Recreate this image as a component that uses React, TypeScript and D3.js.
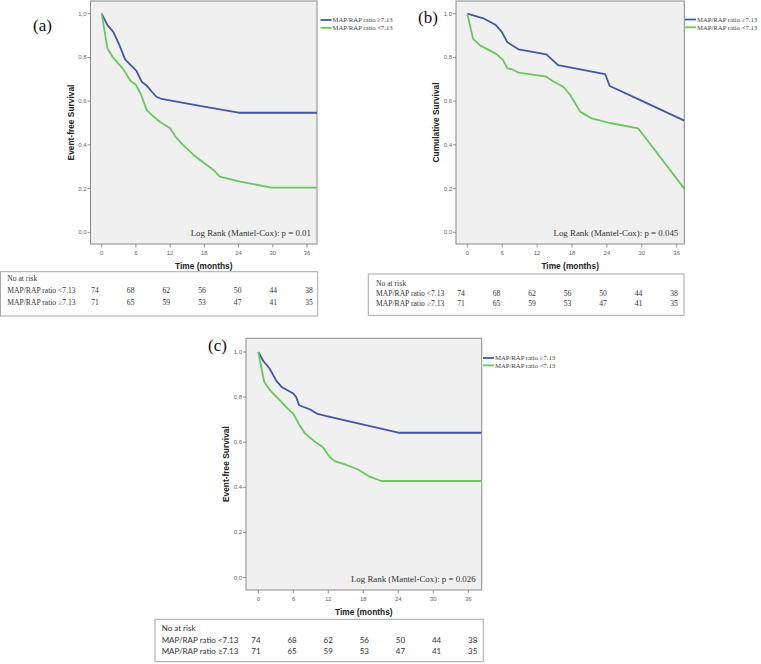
import React from "react";
import * as d3 from "d3";

// ---------- data ----------
const timeTicks = [0, 6, 12, 18, 24, 30, 36];
const survTicks = [0, 0.2, 0.4, 0.6, 0.8, 1.0];
const yTickLabelsA = ["0,0", "0,2", "0,4", "0,6", "0,8", "1,0"];
const yTickLabelsB = ["0.0", "0,2", "0,4", "0,6", "0,8", "1,0"];
const yTickLabelsC = ["0,0", "0,2", "0,4", "0,6", "0,8", "1.0"];

const legendLabels = ["MAP/RAP ratio \u22657.13", "MAP/RAP ratio <7.13"];
const tableTitle = "No at risk";
const tableRowLabels = ["MAP/RAP ratio <7.13", "MAP/RAP ratio \u22657.13"];
const atRiskLow = [74, 68, 62, 56, 50, 44, 38];
const atRiskHigh = [71, 65, 59, 53, 47, 41, 35];

// panel (a)
const timesAHigh = [0, 1, 2, 3.1, 4.1, 5.1, 6.1, 7, 7.9, 8.8, 9.6, 10.5, 17.2, 24, 37.8];
const survAHigh = [1, 0.948, 0.918, 0.857, 0.791, 0.765, 0.738, 0.689, 0.671, 0.643, 0.62, 0.61, 0.578, 0.547, 0.547];
const timesALow = [0, 1, 1.9, 2.9, 3.9, 5, 6, 6.8, 7.9, 9.1, 10.2, 12, 12.9, 14.3, 16.1, 18.4, 19.6, 20.7, 24.3, 29.8, 37.8];
const survALow = [1, 0.841, 0.803, 0.773, 0.742, 0.694, 0.674, 0.636, 0.559, 0.529, 0.506, 0.476, 0.438, 0.399, 0.354, 0.308, 0.285, 0.255, 0.232, 0.204, 0.204];

// panel (b)
const timesBHigh = [0, 2.75, 4.9, 5.9, 6.9, 8.8, 13.6, 15.6, 23.7, 24.5, 30.3, 37.3];
const survBHigh = [1, 0.979, 0.948, 0.918, 0.869, 0.837, 0.814, 0.765, 0.724, 0.669, 0.598, 0.511];
const timesBLow = [0, 1, 2.2, 5, 6.1, 6.9, 7.8, 8.8, 13.6, 14.8, 16.5, 17.7, 19.4, 21.4, 24.5, 29.4, 37.3];
const survBLow = [1, 0.885, 0.855, 0.815, 0.79, 0.75, 0.745, 0.73, 0.712, 0.69, 0.666, 0.628, 0.552, 0.521, 0.5, 0.475, 0.2];

// panel (c)
const timesCHigh = [0, 0.86, 1.9, 3.1, 4, 6, 6.5, 7, 8.9, 10, 11.7, 24, 38.3];
const survCHigh = [1, 0.96, 0.928, 0.872, 0.845, 0.816, 0.8, 0.764, 0.745, 0.727, 0.716, 0.642, 0.642];
const timesCLow = [0, 1, 2, 3.4, 5, 6, 6.9, 8, 9.7, 11, 12.2, 13.1, 15.1, 17.1, 19.1, 21.1, 38.3];
const survCLow = [1, 0.868, 0.831, 0.794, 0.75, 0.727, 0.683, 0.639, 0.602, 0.58, 0.535, 0.516, 0.499, 0.479, 0.447, 0.428, 0.428];

// ---------- style ----------
const BLUE = "#4257a6";
const GREEN = "#66c95a";
const SERIF = "'Liberation Serif', 'Times New Roman', serif";
const SANS = "'Liberation Sans', Arial, sans-serif";

type Frame = { x0: number; x1: number; y0: number; y1: number };

type PanelProps = {
  id: string;
  label: string;
  labelPos: [number, number];
  frame: Frame;
  xRange: [number, number];
  yRange: [number, number];
  yTickLabels: string[];
  yTitle: string;
  logRank: string;
  legendPos: [number, number];
  legendGap: number;
  high: [number[], number[]];
  low: [number[], number[]];
};

function Panel(p: PanelProps) {
  const { frame } = p;
  const x = d3.scaleLinear().domain([0, 36]).range(p.xRange);
  const y = d3.scaleLinear().domain([0, 1]).range(p.yRange);
  const line = d3
    .line<[number, number]>()
    .x((d) => x(d[0]))
    .y((d) => y(d[1]));
  const pts = (s: [number[], number[]]) => s[0].map((t, i) => [t, s[1][i]] as [number, number]);
  const cx = (frame.x0 + frame.x1) / 2;
  const cy = (frame.y0 + frame.y1) / 2;
  return (
    <g>
      <defs>
        <clipPath id={"clip-" + p.id}>
          <rect x={frame.x0} y={frame.y0} width={frame.x1 - frame.x0} height={frame.y1 - frame.y0} />
        </clipPath>
      </defs>
      <rect
        x={frame.x0}
        y={frame.y0}
        width={frame.x1 - frame.x0}
        height={frame.y1 - frame.y0}
        fill="#f0f0f0"
        stroke="#8a8a8a"
        strokeWidth={1}
      />
      {survTicks.map((v, i) => (
        <g key={"yt" + i}>
          <line x1={frame.x0 - 3} x2={frame.x0} y1={y(v)} y2={y(v)} stroke="#777" strokeWidth={0.8} />
          <text
            x={frame.x0 - 4}
            y={y(v) + 2}
            textAnchor="end"
            fontFamily={SANS}
            fontSize={6}
            fill="#666"
          >
            {p.yTickLabels[i]}
          </text>
        </g>
      ))}
      {timeTicks.map((t) => (
        <g key={"xt" + t}>
          <line x1={x(t)} x2={x(t)} y1={frame.y1} y2={frame.y1 + 3.5} stroke="#777" strokeWidth={0.8} />
          <text x={x(t)} y={frame.y1 + 10.5} textAnchor="middle" fontFamily={SANS} fontSize={6} fill="#666">
            {t}
          </text>
        </g>
      ))}
      <text
        x={cx}
        y={frame.y1 + 24.5}
        textAnchor="middle"
        fontFamily={SANS}
        fontWeight="bold"
        fontSize={8.4}
        fill="#222"
      >
        Time (months)
      </text>
      <text
        transform={`translate(${frame.x0 - 17},${cy}) rotate(-90)`}
        textAnchor="middle"
        fontFamily={SANS}
        fontWeight="bold"
        fontSize={8.4}
        fill="#222"
      >
        {p.yTitle}
      </text>
      <g clipPath={`url(#clip-${p.id})`}>
        <path d={line(pts(p.high)) || ""} fill="none" stroke={BLUE} strokeWidth={1.8} strokeLinejoin="round" />
        <path d={line(pts(p.low)) || ""} fill="none" stroke={GREEN} strokeWidth={1.8} strokeLinejoin="round" />
      </g>
      <text
        x={frame.x1 - 6}
        y={y(0) + 4}
        textAnchor="end"
        fontFamily={SERIF}
        fontSize={8.9}
        fill="#333"
      >
        {p.logRank}
      </text>
      {[BLUE, GREEN].map((c, i) => (
        <g key={"lg" + i}>
          <line
            x1={p.legendPos[0]}
            x2={p.legendPos[0] + 11}
            y1={p.legendPos[1] + i * p.legendGap}
            y2={p.legendPos[1] + i * p.legendGap}
            stroke={c}
            strokeWidth={1.8}
          />
          <text
            x={p.legendPos[0] + 12}
            y={p.legendPos[1] + i * p.legendGap + 2.3}
            fontFamily={SERIF}
            fontSize={6.7}
            fill="#444"
          >
            {legendLabels[i]}
          </text>
        </g>
      ))}
      <text x={p.labelPos[0]} y={p.labelPos[1]} fontFamily={SERIF} fontSize={17} fill="#111">
        {p.label}
      </text>
    </g>
  );
}

type TableProps = {
  box: Frame;
  textX: number;
  rowY: number[];
  colRange: [number, number];
  font: string;
  fontSize: number;
};

function RiskTable(t: TableProps) {
  const col = d3.scalePoint<number>().domain(d3.range(atRiskLow.length)).range(t.colRange);
  const rows = [atRiskLow, atRiskHigh];
  return (
    <g fontFamily={t.font} fontSize={t.fontSize} fill="#333">
      <rect
        x={t.box.x0}
        y={t.box.y0}
        width={t.box.x1 - t.box.x0}
        height={t.box.y1 - t.box.y0}
        fill="#fff"
        stroke="#a8a8a8"
        strokeWidth={1}
      />
      <text x={t.textX} y={t.rowY[0] + 3}>
        {tableTitle}
      </text>
      {rows.map((r, ri) => (
        <g key={"r" + ri}>
          <text x={t.textX} y={t.rowY[ri + 1] + 3}>
            {tableRowLabels[ri]}
          </text>
          {r.map((v, ci) => (
            <text key={ci} x={col(ci)} y={t.rowY[ri + 1] + 3} textAnchor="middle">
              {v}
            </text>
          ))}
        </g>
      ))}
    </g>
  );
}

export default function App() {
  return (
    <svg
      width={761}
      height={664}
      style={{ position: "absolute", left: 0, top: 0, background: "#fff" }}
    >
      <Panel
        id="a"
        label="(a)"
        labelPos={[33, 31]}
        frame={{ x0: 90.5, x1: 317, y0: 1, y1: 244 }}
        xRange={[101.7, 307]}
        yRange={[232.3, 13.7]}
        yTickLabels={yTickLabelsA}
        yTitle="Event-free Survival"
        logRank="Log Rank (Mantel-Cox): p = 0.01"
        legendPos={[320.5, 20]}
        legendGap={7.8}
        high={[timesAHigh, survAHigh]}
        low={[timesALow, survALow]}
      />
      <Panel
        id="b"
        label="(b)"
        labelPos={[418, 23]}
        frame={{ x0: 456, x1: 684.3, y0: 1, y1: 244 }}
        xRange={[467.3, 676.7]}
        yRange={[232.3, 13.7]}
        yTickLabels={yTickLabelsB}
        yTitle="Cumulative Survival"
        logRank="Log Rank (Mantel-Cox): p = 0.045"
        legendPos={[685, 19.5]}
        legendGap={7.8}
        high={[timesBHigh, survBHigh]}
        low={[timesBLow, survBLow]}
      />
      <Panel
        id="c"
        label="(c)"
        labelPos={[208, 351]}
        frame={{ x0: 246, x1: 481.7, y0: 338.3, y1: 590 }}
        xRange={[258.3, 468.3]}
        yRange={[577.5, 352]}
        yTickLabels={yTickLabelsC}
        yTitle="Event-free Survival"
        logRank="Log Rank (Mantel-Cox): p = 0.026"
        legendPos={[483, 358]}
        legendGap={7.4}
        high={[timesCHigh, survCHigh]}
        low={[timesCLow, survCLow]}
      />
      <RiskTable
        box={{ x0: 0.5, x1: 317.7, y0: 271.7, y1: 316 }}
        textX={7.3}
        rowY={[278.3, 290, 301.7]}
        colRange={[95, 309]}
        font={SERIF}
        fontSize={7.6}
      />
      <RiskTable
        box={{ x0: 368.3, x1: 684, y0: 274, y1: 315.3 }}
        textX={376}
        rowY={[282.7, 293.3, 303.3]}
        colRange={[461, 674]}
        font={SERIF}
        fontSize={7.6}
      />
      <RiskTable
        box={{ x0: 155, x1: 483.3, y0: 619.3, y1: 661.7 }}
        textX={161.7}
        rowY={[628.3, 640, 651]}
        colRange={[256, 472.7]}
        font={"Lato, 'Open Sans', sans-serif"}
        fontSize={8}
      />
    </svg>
  );
}
